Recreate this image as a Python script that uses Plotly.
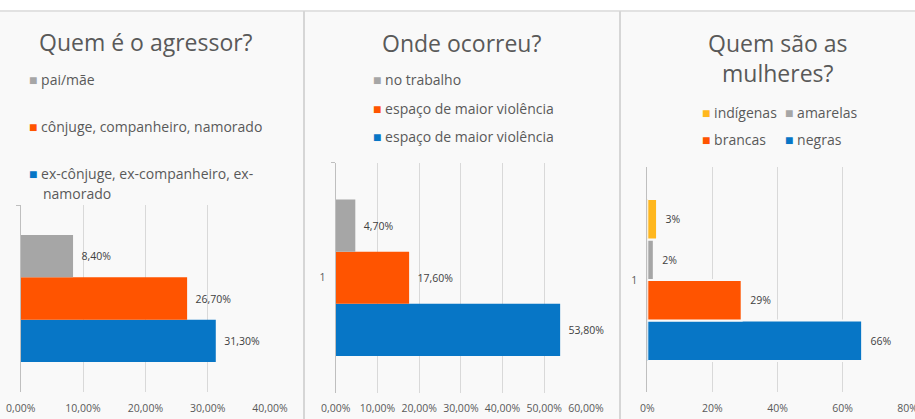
import plotly.graph_objects as go

W, H = 915, 419

category = ["1"]

# Panel 1 — Quem é o agressor?
p1_title = "Quem é o agressor?"
p1_series = ["pai/mãe", "cônjuge, companheiro, namorado", "ex-cônjuge, ex-companheiro, ex-namorado"]
p1_values = [0.084, 0.267, 0.313]
p1_ticks = [0, 0.1, 0.2, 0.3, 0.4]

# Panel 2 — Onde ocorreu?
p2_title = "Onde ocorreu?"
p2_series = ["no trabalho", "espaço de maior violência", "espaço de maior violência"]
p2_values = [0.047, 0.176, 0.538]
p2_ticks = [0, 0.1, 0.2, 0.3, 0.4, 0.5, 0.6]

# Panel 3 — Quem são as mulheres?
p3_title = "Quem são as<br>mulheres?"
p3_series = ["indígenas", "amarelas", "brancas", "negras"]
p3_values = [0.03, 0.02, 0.29, 0.66]
p3_ticks = [0, 0.2, 0.4, 0.6, 0.8]

GRAY = "#A6A6A6"
ORANGE = "#FF5400"
BLUE = "#0776C6"
YELLOW = "#FFB71E"
BG = "#F9F9F9"
TXT = "#595959"

p1_colors = [GRAY, ORANGE, BLUE]
p2_colors = [GRAY, ORANGE, BLUE]
p3_colors = [YELLOW, GRAY, ORANGE, BLUE]

FONT = "Open Sans, Noto Sans, sans-serif"

fig = go.Figure()


def add_panel(series, values, colors, xa, ya, fmt, line_w=0):
    # first trace is drawn at the bottom of the group, so add in reverse
    for name, v, c in reversed(list(zip(series, values, colors))):
        fig.add_trace(go.Bar(
            y=category, x=[v], name=name, orientation="h",
            marker=dict(color=c, line=dict(color=BG, width=line_w)),
            texttemplate="\u00a0\u00a0%{x:" + fmt + "}",
            textposition="outside",
            textfont=dict(size=10.5, color="#404040", family=FONT),
            cliponaxis=False, showlegend=False,
            xaxis=xa, yaxis=ya,
        ))


add_panel(p1_series, p1_values, p1_colors, "x", "y", ".2%")
add_panel(p2_series, p2_values, p2_colors, "x2", "y2", ".2%")
add_panel(p3_series, p3_values, p3_colors, "x3", "y3", ".0%", line_w=2)


def px_x(p):
    return p / W


def px_y(p):
    return 1 - p / H


def xax(rng, ticks, fmt, dom, anchor):
    return dict(
        domain=[px_x(dom[0]), px_x(dom[1])], range=rng, tickvals=ticks,
        tickformat=fmt, showgrid=True, gridcolor="#D9D9D9", gridwidth=1,
        zeroline=False, showline=False, ticks="", anchor=anchor,
        tickfont=dict(size=10.5, color=TXT, family=FONT), fixedrange=True,
        ticklabelstandoff=8, automargin=False, ticklabeloverflow="allow",
    )


def yax(dom, anchor, labels=True, rng=(-0.5, 0.5)):
    return dict(
        domain=[px_y(dom[1]), px_y(dom[0])], type="category", range=list(rng),
        showline=True, linecolor="#BFBFBF", linewidth=1, ticks="outside",
        tickson="boundaries", ticklen=4, tickcolor="#BFBFBF",
        showgrid=False, zeroline=False, showticklabels=labels, anchor=anchor,
        tickfont=dict(size=10.5, color=TXT, family=FONT), ticklabelstandoff=7,
        automargin=False, fixedrange=True,
    )


shapes = [
    dict(type="rect", xref="paper", yref="paper", x0=0, x1=1, y0=0, y1=px_y(11),
         fillcolor=BG, line=dict(width=0), layer="below"),
    dict(type="line", xref="paper", yref="paper", x0=0, x1=1, y0=px_y(11), y1=px_y(11),
         line=dict(color="#E2E2E2", width=2), layer="below"),
    dict(type="line", xref="paper", yref="paper", x0=px_x(304), x1=px_x(304), y0=0, y1=px_y(11),
         line=dict(color="#D6D6D6", width=2), layer="below"),
    dict(type="line", xref="paper", yref="paper", x0=px_x(620), x1=px_x(620), y0=0, y1=px_y(11),
         line=dict(color="#D6D6D6", width=2), layer="below"),
]

annotations = []


def title(text, xc, yc):
    annotations.append(dict(
        text=text, x=px_x(xc), y=px_y(yc), xref="paper", yref="paper",
        xanchor="center", yanchor="middle", showarrow=False,
        font=dict(size=23, color=TXT, family=FONT),
    ))


def legend_item(text, color, x, y, size=14):
    annotations.append(dict(
        text='<span style="color:%s">■</span> %s' % (color, text) if color else text,
        x=px_x(x), y=px_y(y), xref="paper", yref="paper",
        xanchor="left", yanchor="middle", showarrow=False, align="left",
        font=dict(size=size, color=TXT, family=FONT),
    ))


title(p1_title, 146, 42)
title(p2_title, 461, 43)
title(p3_title, 777, 58)

legend_item(p1_series[0], p1_colors[0], 27, 80)
legend_item(p1_series[1], p1_colors[1], 27, 127)
legend_item("ex-cônjuge, ex-companheiro, ex-", p1_colors[2], 27, 173)
legend_item("namorado", None, 41, 193)

legend_item(p2_series[0], p2_colors[0], 371, 80)
legend_item(p2_series[1], p2_colors[1], 371, 108)
legend_item(p2_series[2], p2_colors[2], 371, 136)

legend_item(p3_series[0], p3_colors[0], 700, 112)
legend_item(p3_series[1], p3_colors[1], 783, 112)
legend_item(p3_series[2], p3_colors[2], 700, 139)
legend_item(p3_series[3], p3_colors[3], 783, 139)

fig.update_layout(
    width=W, height=H,
    margin=dict(l=0, r=0, t=0, b=0, autoexpand=False),
    paper_bgcolor="white", plot_bgcolor="rgba(0,0,0,0)",
    barmode="group", bargap=0.32, bargroupgap=0,
    separators=",.",
    showlegend=False,
    hovermode=False,
    font=dict(family=FONT, color=TXT),
    xaxis=xax([0, 0.4], p1_ticks, ".2%", (20.7, 270), "y"),
    yaxis=yax((205, 392), "x", labels=False),
    xaxis2=xax([0, 0.6], p2_ticks, ".2%", (335.7, 586), "y2"),
    yaxis2=yax((162.7, 392.7), "x2"),
    xaxis3=xax([0, 0.8], p3_ticks, ".0%", (647.3, 907.7), "y3"),
    yaxis3=yax((167, 392), "x3", rng=(-0.47, 0.474)),
    shapes=shapes,
    annotations=annotations,
)

fig.write_html(
    "out.html",
    config={"displayModeBar": False},
    post_script="document.body.style.margin='0px';document.body.style.overflow='hidden';",
)
